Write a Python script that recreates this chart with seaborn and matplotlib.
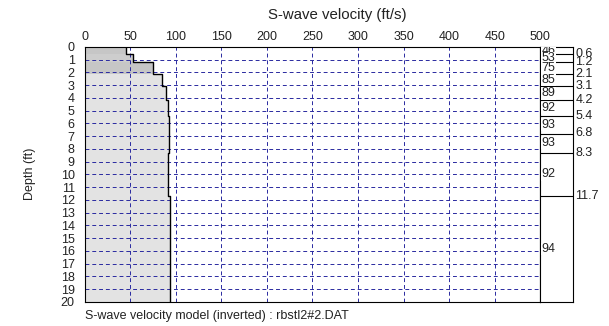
import numpy as np
import pandas as pd
import matplotlib
matplotlib.use("Agg")
import matplotlib.pyplot as plt
import seaborn as sns

# ---- data ----
layer_bounds = [0, 0.6, 1.2, 2.1, 3.1, 4.2, 5.4, 6.8, 8.3, 11.7, 20]
velocities = [46, 53, 75, 85, 89, 92, 93, 93, 92, 94]
boundary_labels = ["0.6", "1.2", "2.1", "3.1", "4.2", "5.4", "6.8", "8.3", "11.7"]
x_ticks = [0, 50, 100, 150, 200, 250, 300, 350, 400, 450, 500]
y_ticks = list(range(0, 21))
layer_shade = ["#c6c6c6", "#cdcdcd", "#c6c6c6"] + ["#e3e3e3"] * 7

sns.set_style("white")
plt.rcParams['font.family'] = ['Liberation Sans', 'DejaVu Sans']

W, H = 609, 326
fig = plt.figure(figsize=(W / 100, H / 100), dpi=100)
x0, x1, xr = 84.5, 540.3, 573.3
y0, y1 = 46.8, 301.8
ax = fig.add_axes([x0 / W, 1 - y1 / H, (x1 - x0) / W, (y1 - y0) / H])
ax2 = fig.add_axes([x1 / W, 1 - y1 / H, (xr - x1) / W, (y1 - y0) / H])

# fills per layer
for i, v in enumerate(velocities):
    ax.fill_betweenx([layer_bounds[i], layer_bounds[i + 1]], 0, v,
                     color=layer_shade[i], lw=0, zorder=1)

# grid
grid_kw = dict(color="#2a2aa0", lw=0.7, ls=(0, (4, 3)), zorder=2)
for xv in x_ticks[1:-1]:
    ax.axvline(xv, **grid_kw)
for yv in y_ticks[1:-1]:
    ax.axhline(yv, **grid_kw)

# step profile
xs, ys = [], []
for i, v in enumerate(velocities):
    xs += [v, v]
    ys += [layer_bounds[i], layer_bounds[i + 1]]
df = pd.DataFrame({"vel": xs, "depth": ys, "order": range(len(xs))})
sns.lineplot(data=df, x="vel", y="depth", sort=False, estimator=None,
             color="black", lw=1.0, ax=ax, zorder=3)

ax.set_xlim(0, 500)
ax.set_ylim(20, 0)
ax.xaxis.tick_top()
ax.set_xticks(x_ticks)
ax.set_yticks(y_ticks)
ax.tick_params(axis="both", length=0, labelsize=9, colors="#222222")
ax.tick_params(axis="x", pad=3)
ax.tick_params(axis="y", pad=7)
ax.set_xlabel("")
ax.set_ylabel("")
for s in ax.spines.values():
    s.set_color("black")
    s.set_linewidth(0.8)

# right panel
ax2.set_xlim(0, 1)
ax2.set_ylim(20, 0)
ax2.set_xticks([])
ax2.set_yticks([])
for s in ax2.spines.values():
    s.set_color("black")
    s.set_linewidth(0.8)
ax2.spines["top"].set_zorder(0)
for b, lab in zip(layer_bounds[1:-1], boundary_labels):
    ax2.plot([0, 1], [b, b], color="black", lw=0.8, zorder=1)
    ax2.text(1.06, b, lab, ha="left", va="center", fontsize=9,
             color="#222222", clip_on=False, transform=ax2.get_yaxis_transform())
for i, v in enumerate(velocities):
    mid = (layer_bounds[i] + layer_bounds[i + 1]) / 2
    ax2.text(0.04, mid, str(v), ha="left", va="center", fontsize=9,
             color="#222222", clip_on=True, zorder=3,
             bbox=dict(facecolor="white", edgecolor="none", pad=0.3))

fig.text(337.5 / W, 1 - 14.5 / H, "S-wave velocity (ft/s)", ha="center",
         va="center", fontsize=10.8, color="#222222")
fig.text(30 / W, 1 - 174 / H, "Depth (ft)", ha="center", va="center",
         rotation=90, fontsize=9, color="#222222")
fig.text(85 / W, 1 - 315.5 / H, "S-wave velocity model (inverted) : rbstl2#2.DAT",
         ha="left", va="center", fontsize=9, color="#222222")

fig.savefig("out.png", dpi=100)
